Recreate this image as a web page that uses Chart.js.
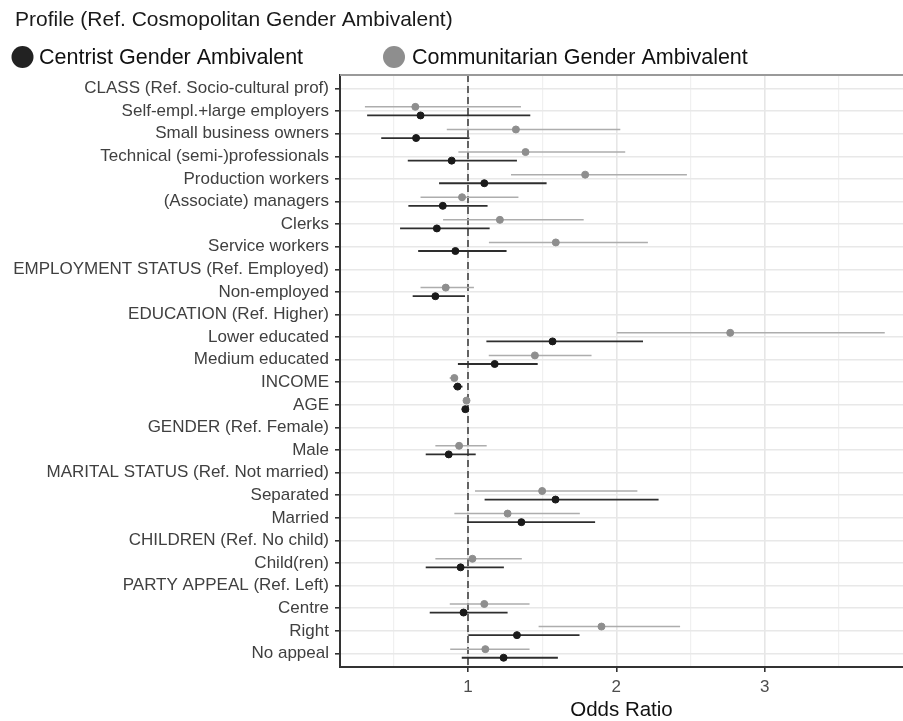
<!DOCTYPE html>
<html>
<head>
<meta charset="utf-8">
<script src="https://cdn.jsdelivr.net/npm/chart.js@4.4.1/dist/chart.umd.min.js"></script>
<style>
  html, body { margin: 0; padding: 0; background: #ffffff; }
  #wrap { position: relative; width: 903px; height: 721px; }
</style>
</head>
<body>
<div id="wrap"><canvas id="c" width="903" height="721"></canvas></div>
<script>
// ---------- DATA ----------
const chartTitle = 'Profile (Ref. Cosmopolitan Gender Ambivalent)';
const seriesNames = ['Centrist Gender Ambivalent', 'Communitarian Gender Ambivalent'];
const xAxisTitle = 'Odds Ratio';
const referenceOR = 1;

const categories = [
  'CLASS (Ref. Socio-cultural prof)',
  'Self-empl.+large employers',
  'Small business owners',
  'Technical (semi-)professionals',
  'Production workers',
  '(Associate) managers',
  'Clerks',
  'Service workers',
  'EMPLOYMENT STATUS (Ref. Employed)',
  'Non-employed',
  'EDUCATION (Ref. Higher)',
  'Lower educated',
  'Medium educated',
  'INCOME',
  'AGE',
  'GENDER (Ref. Female)',
  'Male',
  'MARITAL STATUS (Ref. Not married)',
  'Separated',
  'Married',
  'CHILDREN (Ref. No child)',
  'Child(ren)',
  'PARTY APPEAL (Ref. Left)',
  'Centre',
  'Right',
  'No appeal'
];

const centristOR = [null,0.68,0.65,0.89,1.11,0.83,0.79,0.915,null,0.78,null,1.57,1.18,0.93,0.982,null,0.87,null,1.59,1.36,null,0.95,null,0.97,1.33,1.24];
const centristLo = [null,0.32,0.415,0.594,0.805,0.598,0.542,0.664,null,0.627,null,1.124,0.932,0.90,0.972,null,0.715,null,1.112,0.993,null,0.715,null,0.742,1.002,0.958];
const centristHi = [null,1.42,1.01,1.33,1.53,1.132,1.146,1.26,null,0.98,null,2.18,1.47,0.963,0.99,null,1.052,null,2.285,1.857,null,1.242,null,1.267,1.752,1.606];

const communitarianOR = [null,0.645,1.323,1.388,1.79,0.96,1.215,1.592,null,0.85,null,2.768,1.451,0.908,0.99,null,0.94,null,1.5,1.267,null,1.03,null,1.11,1.9,1.117];
const communitarianLo = [null,0.305,0.857,0.935,1.29,0.68,0.832,1.141,null,0.68,null,2.003,1.14,0.876,0.98,null,0.78,null,1.047,0.908,null,0.78,null,0.877,1.476,0.88];
const communitarianHi = [null,1.357,2.027,2.06,2.476,1.34,1.78,2.213,null,1.04,null,3.81,1.833,0.93,1.0,null,1.126,null,2.142,1.754,null,1.363,null,1.415,2.43,1.415];

const xTickValues = [0.5,1,1.5,2,2.5,3,3.5];
const xLabeledTicks = [1,2,3];

// ---------- STYLE / LAYOUT ----------
const FONT = "'Liberation Sans', Arial, Helvetica, sans-serif";
const dodge = 0.19;
const styles = [
  { point: '#1a1a1a', line: '#2e2e2e', lineWidth: 1.8, offset: dodge },
  { point: '#8e8e8e', line: '#adadad', lineWidth: 1.5, offset: -dodge }
];
const seriesData = [
  { or: centristOR, lo: centristLo, hi: centristHi },
  { or: communitarianOR, lo: communitarianLo, hi: communitarianHi }
];

function pts(s, off) {
  const out = [];
  s.or.forEach((v, i) => { if (v !== null) out.push({ x: v, y: i + off }); });
  return out;
}

const errorBarPlugin = {
  id: 'errorBars',
  beforeDatasetsDraw(chart) {
    const { ctx, chartArea, scales: { x, y } } = chart;
    ctx.save();
    // reference dashed line
    const xr = x.getPixelForValue(referenceOR);
    ctx.strokeStyle = '#555555';
    ctx.lineWidth = 1.8;
    ctx.setLineDash([7, 4]);
    ctx.beginPath();
    ctx.moveTo(xr, chartArea.top);
    ctx.lineTo(xr, chartArea.bottom);
    ctx.stroke();
    ctx.setLineDash([]);
    // error bars
    seriesData.forEach((s, k) => {
      const st = styles[k];
      ctx.strokeStyle = st.line;
      ctx.lineWidth = st.lineWidth;
      s.lo.forEach((lo, i) => {
        if (lo === null) return;
        const py = y.getPixelForValue(i + st.offset);
        ctx.beginPath();
        ctx.moveTo(x.getPixelForValue(lo), py);
        ctx.lineTo(x.getPixelForValue(s.hi[i]), py);
        ctx.stroke();
      });
    });
    ctx.restore();
  },
  afterDraw(chart) {
    const { ctx, chartArea } = chart;
    ctx.save();
    // top panel border
    ctx.strokeStyle = '#9a9a9a';
    ctx.lineWidth = 2;
    ctx.beginPath();
    ctx.moveTo(chartArea.left, chartArea.top);
    ctx.lineTo(chartArea.right, chartArea.top);
    ctx.stroke();
    // title
    ctx.fillStyle = '#1a1a1a';
    ctx.font = '21px ' + FONT;
    ctx.textBaseline = 'alphabetic';
    ctx.textAlign = 'left';
    ctx.fillText(chartTitle, 15, 26);
    // legend
    const items = [
      { cx: 22.5, tx: 39, color: '#222222' },
      { cx: 394, tx: 412, color: '#8e8e8e' }
    ];
    ctx.font = '21.5px ' + FONT;
    items.forEach((it, k) => {
      ctx.fillStyle = it.color;
      ctx.beginPath();
      ctx.arc(it.cx, 57, 11, 0, Math.PI * 2);
      ctx.fill();
      ctx.fillStyle = '#111111';
      ctx.fillText(seriesNames[k], it.tx, 64);
    });
    ctx.restore();
  }
};

new Chart(document.getElementById('c'), {
  type: 'scatter',
  data: {
    datasets: [
      { label: seriesNames[0], data: pts(seriesData[0], styles[0].offset),
        backgroundColor: styles[0].point, borderColor: styles[0].point,
        pointRadius: 3.5, pointHoverRadius: 3.5, order: 1 },
      { label: seriesNames[1], data: pts(seriesData[1], styles[1].offset),
        backgroundColor: styles[1].point, borderColor: styles[1].point,
        pointRadius: 3.5, pointHoverRadius: 3.5, order: 2 }
    ]
  },
  options: {
    responsive: false,
    animation: false,
    devicePixelRatio: 1,
    layout: { autoPadding: false, padding: { top: 75, left: 0, right: 0, bottom: 0 } },
    plugins: { legend: { display: false }, tooltip: { enabled: false }, title: { display: false } },
    scales: {
      x: {
        type: 'linear',
        min: 0.137,
        max: 3.933,
        afterBuildTicks(scale) { scale.ticks = xTickValues.map(v => ({ value: v })); },
        afterFit(scale) { scale.height = 54; },
        ticks: {
          autoSkip: false,
          maxRotation: 0,
          padding: 5,
          color: '#4d4d4d',
          font: { family: FONT, size: 17 },
          callback: v => xLabeledTicks.includes(v) ? String(v) : ''
        },
        grid: {
          color: ctx => (ctx.tick && Number.isInteger(ctx.tick.value)) ? '#e6e6e6' : '#f0f0f0',
          lineWidth: ctx => (ctx.tick && Number.isInteger(ctx.tick.value)) ? 1.6 : 1.2,
          tickColor: ctx => (ctx.tick && Number.isInteger(ctx.tick.value)) ? '#333333' : 'rgba(0,0,0,0)',
          tickLength: 5,
          tickWidth: 1.6
        },
        border: { display: true, color: '#333333', width: 2 },
        title: {
          display: true,
          text: xAxisTitle,
          color: '#111111',
          font: { family: FONT, size: 20.5, lineHeight: 1 },
          padding: { top: 0, bottom: 0 }
        }
      },
      y: {
        type: 'linear',
        reverse: true,
        min: -0.6,
        max: categories.length - 0.4,
        afterBuildTicks(scale) { scale.ticks = categories.map((c, i) => ({ value: i })); },
        afterFit(scale) { scale.width = 340; },
        ticks: {
          autoSkip: false,
          padding: 6,
          color: '#404040',
          font: { family: FONT, size: 17 },
          callback: v => categories[v]
        },
        grid: {
          color: '#e8e8e8',
          lineWidth: 1.6,
          tickColor: '#333333',
          tickLength: 5,
          tickWidth: 1.6
        },
        border: { display: true, color: '#333333', width: 2 }
      }
    }
  },
  plugins: [errorBarPlugin]
});
</script>
</body>
</html>
